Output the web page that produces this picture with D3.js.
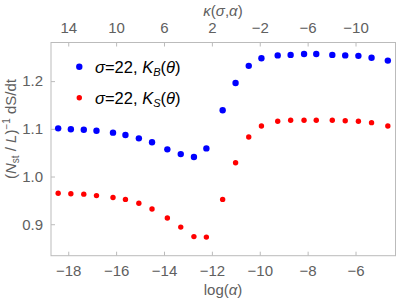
<!DOCTYPE html>
<html>
<head>
<meta charset="utf-8">
<script src="https://cdn.jsdelivr.net/npm/d3@7"></script>
<style>
  body { margin: 0; background: #fff; }
  svg { font-family: "Liberation Sans", Arial, sans-serif; }
</style>
</head>
<body>
<svg id="chart" width="419" height="302"></svg>
<script>
// data
var logAlpha = [-18.42, -17.89, -17.35, -16.82, -16.13, -15.61, -15.05, -14.5, -13.86, -13.3, -12.75, -12.23,
  -11.55, -11.01, -10.46, -9.93, -9.25, -8.71, -8.15, -7.64, -6.97, -6.43, -5.88, -5.33, -4.65];
var kB = [1.101, 1.099, 1.098, 1.096, 1.092, 1.087, 1.080, 1.072, 1.057, 1.047, 1.041, 1.059,
  1.139, 1.196, 1.232, 1.248, 1.254, 1.255, 1.257, 1.257, 1.255, 1.254, 1.253, 1.249, 1.243];
var kS = [0.965, 0.964, 0.963, 0.960, 0.956, 0.952, 0.944, 0.932, 0.913, 0.894, 0.874, 0.873,
  0.952, 1.029, 1.083, 1.106, 1.116, 1.118, 1.118, 1.118, 1.118, 1.117, 1.116, 1.113, 1.106];
var xTicks = [-18, -16, -14, -12, -10, -8, -6];
var kTicks = [14, 10, 6, 2, -2, -6, -10];
var yTicks = [0.9, 1.0, 1.1, 1.2];
var sigma = 22;

var svg = d3.select("#chart");
var frame = {left: 51, right: 395.5, top: 42.5, bottom: 255.7};
var grey = "#bbb", labelGrey = "#606060";

var x = d3.scaleLinear().domain([-18.72, -4.33]).range([frame.left, frame.right]);
// kappa = -2 log(alpha) - sigma
var kappa = d => -2 * d - sigma;
var xTop = d3.scaleLinear().domain(x.domain().map(kappa)).range(x.range());
var y = d3.scaleLinear().domain([0.834, 1.281]).range([frame.bottom, frame.top]);

var fmt = d => (d < 0 ? "\u2212" + Math.abs(d) : d);

// axes, ticks inside the frame
var gBottom = svg.append("g").attr("transform", `translate(0,${frame.bottom})`)
  .call(d3.axisBottom(x).tickValues(xTicks).tickSizeInner(-4).tickSizeOuter(0).tickPadding(10).tickFormat(fmt));
var gTop = svg.append("g").attr("transform", `translate(0,${frame.top})`)
  .call(d3.axisTop(xTop).tickValues(kTicks).tickSizeInner(-4).tickSizeOuter(0).tickPadding(10).tickFormat(fmt));
var gLeft = svg.append("g").attr("transform", `translate(${frame.left},0)`)
  .call(d3.axisLeft(y).tickValues(yTicks).tickSizeInner(-4).tickSizeOuter(0).tickPadding(8).tickFormat(d3.format(".1f")));

[gBottom, gTop, gLeft].forEach(function (g) {
  g.select(".domain").remove();
  g.selectAll(".tick line").attr("stroke", grey);
  g.selectAll(".tick text").attr("fill", labelGrey).attr("font-size", 15);
});

svg.append("rect")
  .attr("x", frame.left).attr("y", frame.top)
  .attr("width", frame.right - frame.left).attr("height", frame.bottom - frame.top)
  .attr("fill", "none").attr("stroke", grey).attr("stroke-width", 1);

// points
svg.append("g").selectAll("circle").data(logAlpha).enter().append("circle")
  .attr("cx", d => x(d)).attr("cy", (d, i) => y(kB[i])).attr("r", 3.2).attr("fill", "#0000ff");
svg.append("g").selectAll("circle").data(logAlpha).enter().append("circle")
  .attr("cx", d => x(d)).attr("cy", (d, i) => y(kS[i])).attr("r", 2.7).attr("fill", "#ff0000");

// axis labels
svg.append("text").attr("x", 223).attr("y", 295).attr("text-anchor", "middle")
  .attr("font-size", 15).attr("fill", labelGrey)
  .html('log(<tspan font-style="italic">\u03b1</tspan>)');
svg.append("text").attr("x", 223).attr("y", 16).attr("text-anchor", "middle")
  .attr("font-size", 15).attr("fill", labelGrey)
  .html('<tspan font-style="italic">\u03ba</tspan>(<tspan font-style="italic">\u03c3</tspan>,<tspan font-style="italic">\u03b1</tspan>)');
svg.append("text").attr("transform", "translate(16,129) rotate(-90)").attr("text-anchor", "middle")
  .attr("font-size", 15).attr("fill", labelGrey)
  .html('(<tspan font-style="italic">N</tspan><tspan font-size="10" dy="3">st</tspan>'
    + '<tspan dy="-3"> / </tspan><tspan font-style="italic">L</tspan>)'
    + '<tspan font-size="10" dy="-6">\u22121</tspan><tspan dy="6"> dS/dt</tspan>');

// legend
var legend = [
  {color: "#0000ff", r: 3.2, sub: "B", y: 66.7},
  {color: "#ff0000", r: 2.7, sub: "S", y: 97.7}
];
var lg = svg.append("g").selectAll("g").data(legend).enter().append("g");
lg.append("circle").attr("cx", 79.3).attr("cy", d => d.y).attr("r", d => d.r).attr("fill", d => d.color);
lg.append("text").attr("x", 95).attr("y", d => d.y + 6).attr("font-size", 16.5).attr("fill", "#000")
  .html(d => '<tspan font-style="italic">\u03c3</tspan>=' + sigma + ', <tspan font-style="italic">K</tspan>'
    + '<tspan font-size="11" font-style="italic" dy="3">' + d.sub + '</tspan><tspan dy="-3">(</tspan>'
    + '<tspan font-style="italic">\u03b8</tspan>)');
</script>
</body>
</html>
